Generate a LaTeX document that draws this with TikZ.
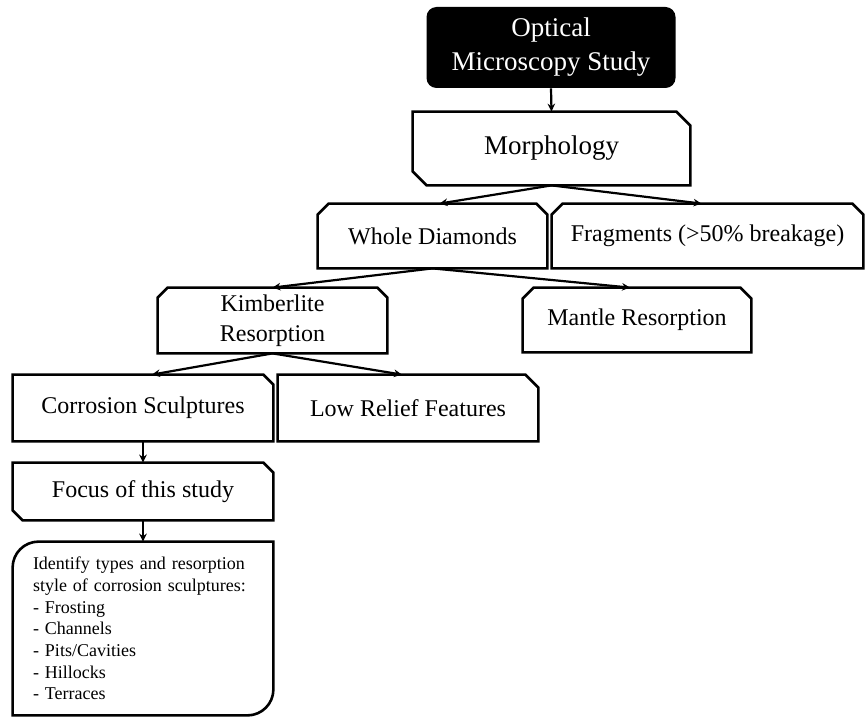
\documentclass[tikz,border=0pt]{standalone}
\usepackage{fontspec}
\setmainfont{Liberation Serif}
\usetikzlibrary{arrows.meta}
\tikzset{
  hold/.style={draw=none, rectangle, inner sep=0pt, align=center},
  outl/.style={draw=black, line width=1.3pt, line join=miter},
  arr/.style={draw=black, line width=1.1pt, -{Stealth[length=4pt,width=3.8pt]}},
  bigtxt/.style={font=\fontsize{13.5}{17}\selectfont},
  midtxt/.style={font=\fontsize{12}{15}\selectfont},
  smalltxt/.style={font=\fontsize{9}{10.85}\selectfont},
}
\begin{document}
\begin{tikzpicture}[x=0.5pt,y=-0.5pt]
\useasboundingbox (0,0) rectangle (867,717);
% nodes
\node[hold, bigtxt, text=white, fill=black, rounded corners=5pt, minimum width=124.5pt, minimum height=40.5pt] (top) at (551,47.5) {Optical\\Microscopy Study};
\node[hold, bigtxt, minimum width=138.5pt, minimum height=36.5pt] (morph) at (551.5,148.5) {Morphology};
\node[hold, midtxt, minimum width=114.5pt, minimum height=32pt] (whole) at (432.5,236) {Whole Diamonds};
\node[hold, midtxt, minimum width=155.5pt, minimum height=32pt] (frag) at (707.5,236) {Fragments (>50\% breakage)};
\node[hold, midtxt, minimum width=114.5pt, minimum height=32.5pt] (kimb) at (272.5,320.5) {Kimberlite\\Resorption};
\node[hold, midtxt, minimum width=114pt, minimum height=32pt] (mantle) at (637,320) {Mantle Resorption};
\node[hold, midtxt, minimum width=130pt, minimum height=33pt] (corr) at (143,408) {Corrosion Sculptures};
\node[hold, midtxt, minimum width=130pt, minimum height=33pt] (low) at (408,408) {Low Relief Features};
\node[hold, midtxt, minimum width=130pt, minimum height=28.5pt] (focus) at (143,491.5) {Focus of this study};
\node[hold, smalltxt, align=left, text width=110pt, inner xsep=10pt, minimum width=130pt, minimum height=86.5pt] (ident) at (143,628.5)
  {Identify types and resorption\\style of corrosion sculptures:\\- Frosting\\- Channels\\- Pits/Cavities\\- Hillocks\\- Terraces};
% outlines
\draw[outl] (morph.north west) -- ([xshift=-7pt]morph.north east) -- ([yshift=-7pt]morph.north east)
  -- (morph.south east) -- ([xshift=7pt]morph.south west) -- ([yshift=7pt]morph.south west) -- cycle;
\draw[outl] ([yshift=-5.5pt]whole.north west) -- ([xshift=5.5pt]whole.north west) -- ([xshift=-5.5pt]whole.north east)
  -- ([yshift=-5.5pt]whole.north east) -- (whole.south east) -- (whole.south west) -- cycle;
\draw[outl] ([yshift=-5.5pt]frag.north west) -- ([xshift=5.5pt]frag.north west) -- ([xshift=-5.5pt]frag.north east)
  -- ([yshift=-5.5pt]frag.north east) -- (frag.south east) -- (frag.south west) -- cycle;
\draw[outl] ([yshift=-5pt]kimb.north west) -- ([xshift=5pt]kimb.north west) -- ([xshift=-5pt]kimb.north east)
  -- ([yshift=-5pt]kimb.north east) -- (kimb.south east) -- (kimb.south west) -- cycle;
\draw[outl] ([yshift=-5.5pt]mantle.north west) -- ([xshift=5.5pt]mantle.north west) -- ([xshift=-5.5pt]mantle.north east)
  -- ([yshift=-5.5pt]mantle.north east) -- (mantle.south east) -- (mantle.south west) -- cycle;
\draw[outl] (corr.north west) -- ([xshift=-5pt]corr.north east) -- ([yshift=-5pt]corr.north east)
  -- (corr.south east) -- (corr.south west) -- cycle;
\draw[outl] (low.north west) -- ([xshift=-6.5pt]low.north east) -- ([yshift=-6.5pt]low.north east)
  -- (low.south east) -- (low.south west) -- cycle;
\draw[outl] (focus.north west) -- ([xshift=-5pt]focus.north east) -- ([yshift=-5pt]focus.north east)
  -- (focus.south east) -- ([xshift=5pt]focus.south west) -- ([yshift=5pt]focus.south west) -- cycle;
\draw[outl] (ident.south west) -- ([yshift=-13pt]ident.north west) arc[start angle=180, end angle=90, radius=13pt]
  -- (ident.north east) -- ([yshift=13pt]ident.south east) arc[start angle=0, end angle=-90, radius=13pt] -- cycle;
% connectors
\draw[arr] (top.south) -- (morph.north);
\draw[arr] (morph.south) -- ([xshift=3.5pt]whole.north);
\draw[arr] (morph.south) -- ([xshift=-3pt]frag.north);
\draw[arr] (whole.south) -- (kimb.north);
\draw[arr] (whole.south) -- ([xshift=-3.5pt]mantle.north);
\draw[arr] (kimb.south) -- ([xshift=4.5pt]corr.north);
\draw[arr] (kimb.south) -- ([xshift=-3pt]low.north);
\draw[arr] (corr.south) -- (focus.north);
\draw[arr] (focus.south) -- (ident.north);
\end{tikzpicture}
\end{document}
